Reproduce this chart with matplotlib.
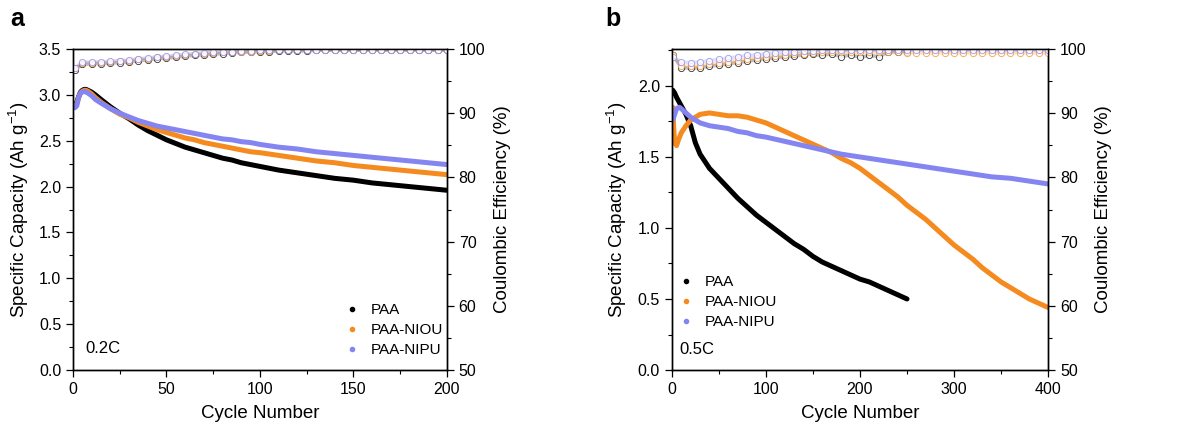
import numpy as np
import matplotlib.pyplot as plt
from matplotlib.lines import Line2D

plt.rcParams['font.family'] = ['Liberation Sans', 'DejaVu Sans']
plt.rcParams['mathtext.fontset'] = 'custom'
plt.rcParams['mathtext.rm'] = 'Liberation Sans'

BLACK = '#000000'
ORANGE = '#F58A1F'
BLUE = '#8585F2'

# ---- panel a (0.2C) capacity ----
cyc_a = [1, 2, 3, 4, 5, 6, 7, 8, 10, 12, 15, 20, 25, 30, 35, 40, 45, 50, 55, 60, 65, 70,
         75, 80, 85, 90, 95, 100, 110, 120, 130, 140, 150, 160, 170, 180, 190, 200]
paa_a = [2.88, 2.92, 2.98, 3.03, 3.05, 3.06, 3.06, 3.05, 3.03, 3.00, 2.95, 2.87, 2.80, 2.74,
         2.67, 2.61, 2.56, 2.51, 2.47, 2.43, 2.40, 2.37, 2.34, 2.31, 2.29, 2.26, 2.24, 2.22,
         2.18, 2.15, 2.12, 2.09, 2.07, 2.04, 2.02, 2.00, 1.98, 1.96]
niou_a = [2.88, 2.90, 2.97, 3.02, 3.04, 3.05, 3.05, 3.04, 3.01, 2.97, 2.92, 2.85, 2.79, 2.75,
          2.70, 2.66, 2.62, 2.59, 2.56, 2.53, 2.51, 2.48, 2.46, 2.44, 2.42, 2.40, 2.38, 2.37,
          2.34, 2.31, 2.28, 2.26, 2.23, 2.21, 2.19, 2.17, 2.15, 2.13]
nipu_a = [2.86, 2.88, 2.97, 3.02, 3.03, 3.04, 3.03, 3.02, 2.99, 2.95, 2.91, 2.85, 2.80, 2.76,
          2.72, 2.69, 2.66, 2.64, 2.62, 2.60, 2.58, 2.56, 2.54, 2.52, 2.51, 2.49, 2.48, 2.46,
          2.43, 2.41, 2.38, 2.36, 2.34, 2.32, 2.30, 2.28, 2.26, 2.24]

# ---- panel a coulombic efficiency (cycles 1, 5, 10, ..., 200) ----
ce_cyc_a = [1] + list(range(5, 201, 5))
ce_paa_a = [96.8, 97.6, 97.7, 97.7, 97.8, 97.9, 98.0, 98.2, 98.3, 98.5, 98.6, 98.7, 98.9, 99.0,
            99.1, 99.2, 99.3, 99.4, 99.5, 99.5, 99.6, 99.6, 99.7, 99.7, 99.7, 99.7] + [99.8] * 15
ce_niou_a = [97.0, 97.8, 97.9, 97.9, 98.0, 98.1, 98.2, 98.4, 98.5, 98.7, 98.8, 98.9, 99.1, 99.2,
             99.3, 99.4, 99.5, 99.5, 99.6, 99.6, 99.7, 99.7, 99.8, 99.8, 99.8, 99.8] + [99.9] * 15
ce_nipu_a = [97.0, 98.0, 98.0, 98.0, 98.1, 98.2, 98.3, 98.5, 98.6, 98.8, 98.9, 99.0, 99.2, 99.3,
             99.4, 99.5, 99.5, 99.6, 99.7, 99.7, 99.8, 99.8, 99.8, 99.9, 99.9, 99.9] + [99.9] * 15

# ---- panel b (0.5C) capacity ----
cyc_b_paa = [1, 3, 5, 10, 15, 20, 25, 30, 35, 40, 50, 60, 70, 80, 90, 100, 110, 120, 130, 140,
             150, 160, 170, 180, 190, 200, 210, 220, 230, 240, 250]
paa_b = [1.97, 1.95, 1.92, 1.86, 1.80, 1.72, 1.60, 1.52, 1.47, 1.42, 1.35, 1.28, 1.21, 1.15,
         1.09, 1.04, 0.99, 0.94, 0.89, 0.85, 0.80, 0.76, 0.73, 0.70, 0.67, 0.64, 0.62, 0.59,
         0.56, 0.53, 0.50]
cyc_b_niou = [1, 2, 3, 5, 7, 10, 15, 20, 25, 30, 40, 50, 60, 70, 80, 90, 100, 110, 120, 130,
              140, 150, 160, 170, 180, 190, 200, 210, 220, 230, 240, 250, 260, 270, 280, 290,
              300, 310, 320, 330, 340, 350, 360, 370, 380, 390, 400]
niou_b = [1.85, 1.70, 1.60, 1.58, 1.62, 1.67, 1.72, 1.76, 1.78, 1.80, 1.81, 1.80, 1.79, 1.79,
          1.78, 1.76, 1.74, 1.71, 1.68, 1.65, 1.62, 1.59, 1.56, 1.53, 1.49, 1.46, 1.42, 1.37,
          1.32, 1.27, 1.22, 1.16, 1.11, 1.06, 1.00, 0.94, 0.88, 0.83, 0.78, 0.72, 0.67, 0.62,
          0.58, 0.54, 0.50, 0.47, 0.44]
cyc_b_nipu = [1, 3, 5, 8, 10, 15, 20, 25, 30, 40, 50, 60, 70, 80, 90, 100, 120, 140, 160, 180,
              200, 220, 240, 260, 280, 300, 320, 340, 360, 380, 400]
nipu_b = [1.76, 1.80, 1.84, 1.85, 1.84, 1.81, 1.78, 1.76, 1.74, 1.72, 1.71, 1.70, 1.68, 1.67,
          1.65, 1.64, 1.61, 1.58, 1.55, 1.52, 1.50, 1.48, 1.46, 1.44, 1.42, 1.40, 1.38, 1.36,
          1.35, 1.33, 1.31]

# ---- panel b coulombic efficiency (cycles 1, 10, 20, ..., 400) ----
ce_cyc_b = [1] + list(range(10, 401, 10))
ce_paa_b = [99.0, 97.1, 97.0, 97.1, 97.3, 97.5, 97.7, 97.9, 98.1, 98.3, 98.5, 98.6, 98.8, 98.9,
            99.1, 99.2, 99.0, 99.3, 98.8, 99.1, 98.7, 99.0, 98.8, 99.5, 99.6, 99.6]
ce_niou_b = [99.0, 97.4, 97.3, 97.4, 97.6, 97.8, 98.0, 98.2, 98.4, 98.6, 98.8, 98.9, 99.1, 99.2,
             99.3, 99.4, 99.5, 99.5, 99.5, 99.5, 99.5, 99.5, 99.5, 99.5, 99.5, 99.4] + [99.4] * 15
ce_nipu_b = [98.8, 98.0, 97.9, 98.0, 98.2, 98.4, 98.6, 98.8, 99.0, 99.1, 99.3, 99.4, 99.5, 99.6,
             99.7, 99.7, 99.8, 99.8, 99.8, 99.8, 99.8, 99.8, 99.8, 99.8, 99.8, 99.8] + [99.8] * 15

labels = ['PAA', 'PAA-NIOU', 'PAA-NIPU']
colors = [BLACK, ORANGE, BLUE]

fig = plt.figure(figsize=(11.87, 4.32), dpi=100)
ax_a = fig.add_axes([0.0615, 0.1435, 0.315, 0.743])
ax_b = fig.add_axes([0.566, 0.1435, 0.317, 0.743])


def style(ax, ax2, xmax, xmaj, ymax, ymaj):
    ax.set_xlim(0, xmax)
    ax.set_ylim(0, ymax)
    ax.set_xticks(np.arange(0, xmax + 1, xmaj))
    ax.set_xticks(np.arange(0, xmax + 1, xmaj / 2), minor=True)
    ax.set_yticks(np.arange(0, ymax + 0.01, ymaj))
    ax.set_yticks(np.arange(0, ymax + 0.01, ymaj / 2), minor=True)
    ax2.set_ylim(50, 100)
    ax2.set_yticks(np.arange(50, 101, 10))
    ax2.set_yticks(np.arange(50, 101, 5), minor=True)
    for a in (ax, ax2):
        a.tick_params(which='major', direction='out', length=5, width=0.9, labelsize=11.5)
        a.tick_params(which='minor', direction='out', length=3, width=0.8)
        for s in a.spines.values():
            s.set_linewidth(1.0)
    ax.tick_params(axis='both', which='both', top=False, right=False)
    ax.set_xlabel('Cycle Number', fontsize=13.5, labelpad=6)
    ax.set_ylabel('Specific Capacity (Ah g$^{-1}$)', fontsize=13.5, labelpad=6)
    ax2.set_ylabel('Coulombic Efficiency (%)', fontsize=13.5, labelpad=6)
    ax.set_yticklabels(['%.1f' % v for v in np.arange(0, ymax + 0.01, ymaj)])


def ce_plot(ax2, x, y, c):
    ax2.plot(x, y, color=c, lw=2.5, alpha=0.25, solid_capstyle='round')
    ax2.plot(x, y, ls='none', marker='o', ms=4.5, mfc='white', mec=c, mew=0.6, alpha=0.8)


# panel a
ax2_a = ax_a.twinx()
for y, c in zip([paa_a, niou_a, nipu_a], colors):
    ax_a.plot(cyc_a, y, color=c, lw=3.6, solid_capstyle='round', solid_joinstyle='round')
for y, c in zip([ce_paa_a, ce_niou_a, ce_nipu_a], colors):
    ce_plot(ax2_a, ce_cyc_a, y, c)
style(ax_a, ax2_a, 200, 50, 3.5, 0.5)
ax_a.text(0.032, 0.053, '0.2C', transform=ax_a.transAxes, fontsize=12)

# panel b
ax2_b = ax_b.twinx()
for x, y, c in zip([cyc_b_paa, cyc_b_niou, cyc_b_nipu], [paa_b, niou_b, nipu_b], colors):
    ax_b.plot(x, y, color=c, lw=3.6, solid_capstyle='round', solid_joinstyle='round')
for x, y, c in zip([ce_cyc_b[:len(ce_paa_b)], ce_cyc_b, ce_cyc_b],
                   [ce_paa_b, ce_niou_b, ce_nipu_b], colors):
    ce_plot(ax2_b, x, y, c)
style(ax_b, ax2_b, 400, 100, 2.26, 0.5)
ax_b.text(0.021, 0.05, '0.5C', transform=ax_b.transAxes, fontsize=12)

# legends
handles = [Line2D([], [], ls='none', marker='o', ms=3, color=c) for c in colors]
leg_kw = dict(frameon=False, fontsize=11, handlelength=0.8, handletextpad=0.8,
              labelspacing=0.4, borderpad=0, borderaxespad=0, loc='upper left')
ax_a.legend(handles, labels, bbox_to_anchor=(0.731, 0.209), **leg_kw)
ax_b.legend(handles, labels, bbox_to_anchor=(0.022, 0.296), **leg_kw)

fig.text(0.009, 0.955, 'a', fontsize=18, fontweight='bold', va='center')
fig.text(0.510, 0.955, 'b', fontsize=18, fontweight='bold', va='center')

fig.savefig('out.png', dpi=100)
